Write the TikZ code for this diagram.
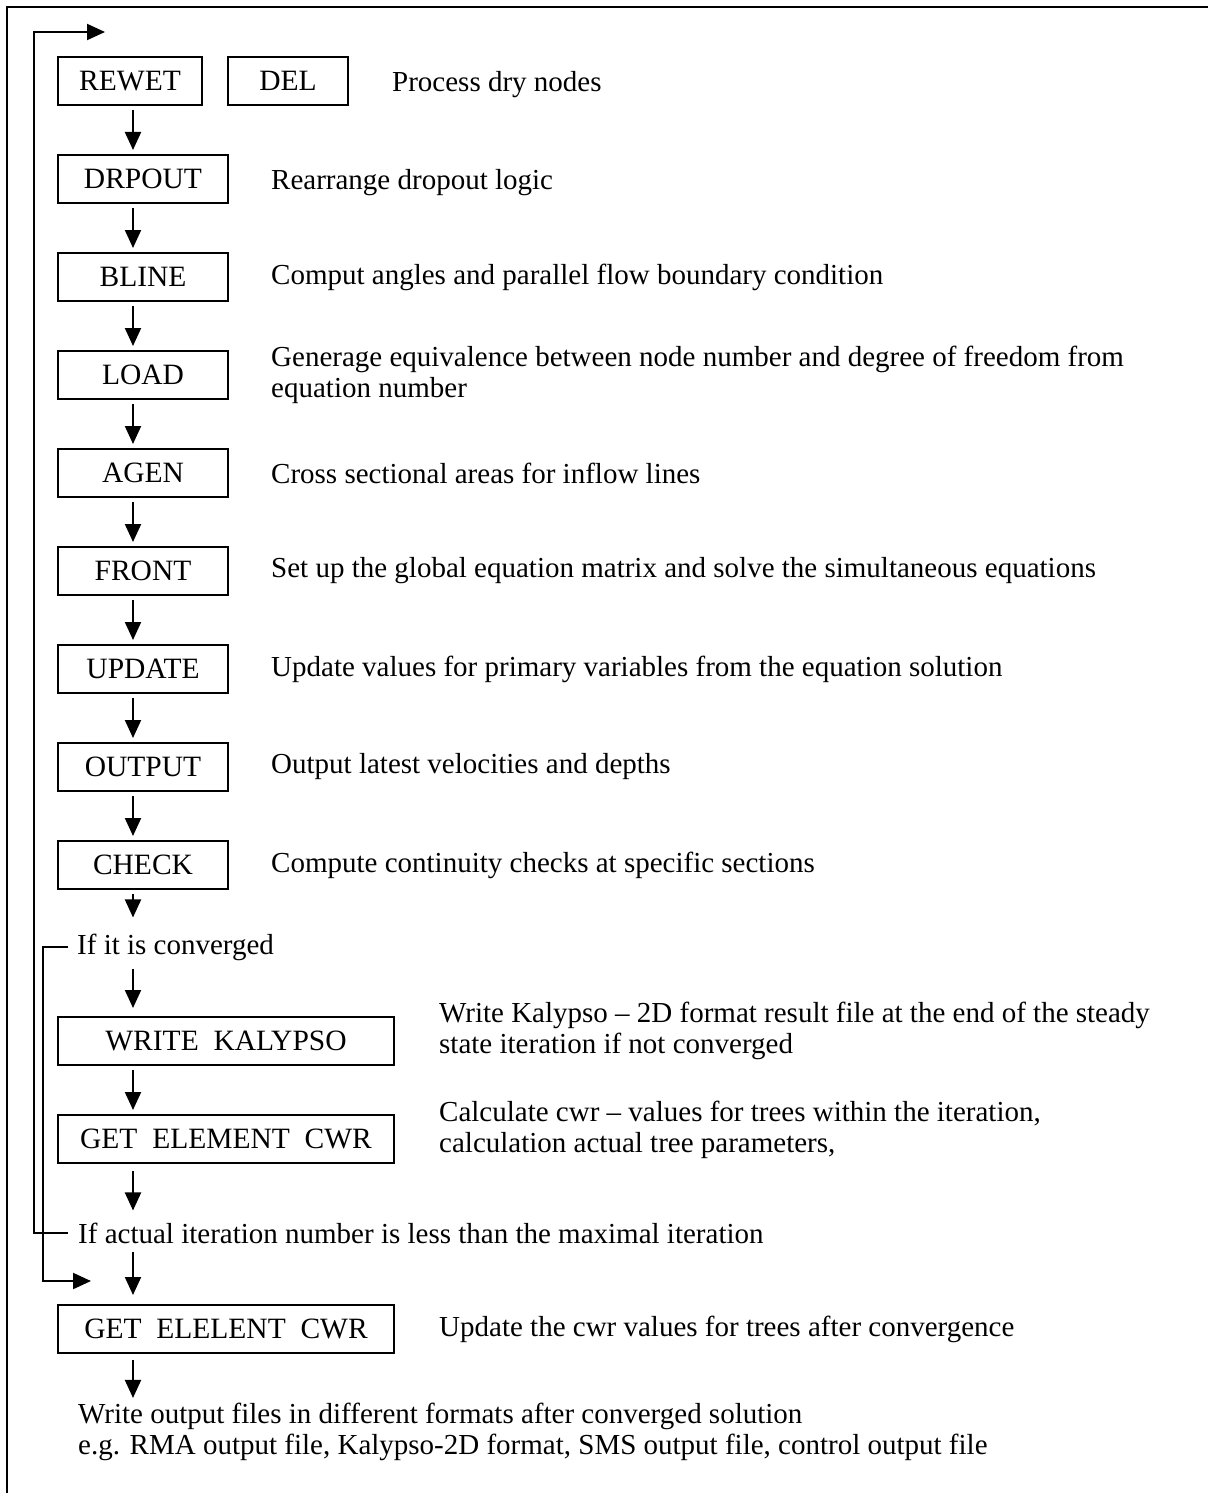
\documentclass[tikz,border=0pt]{standalone}
\usepackage{fontspec}
\setmainfont{Liberation Serif}
\usepackage{tikz}
\usetikzlibrary{arrows.meta, positioning}
\tikzset{
  prog/.style={rectangle, draw=black, line width=2pt,
    minimum width=170pt, minimum height=48pt, inner sep=0pt,
    font=\fontsize{29.5}{31}\selectfont},
  wideprog/.style={prog, minimum width=336pt},
  note/.style={inner sep=0pt, align=left,
    font=\fontsize{29}{31}\selectfont},
  arr/.style={-{Triangle[length=18pt, width=16pt]}, draw=black,
    line width=2pt, shorten <=4pt, shorten >=4pt},
  frame/.style={draw=black, line width=2.4pt},
}

\begin{document}
\begin{tikzpicture}[x=1pt, y=-1pt, node distance=48pt]
    \useasboundingbox (0,0) rectangle (1208,1493);
    \draw[frame] (7,1493) -- (7,7) -- (1208,7);

    % main loop
    \node[prog, minimum width=144pt, anchor=north west] (rewet) at (57,56) {REWET};
    \node[prog, minimum width=120pt] (del) [right=24pt of rewet] {DEL};
    \node[prog] (drpout) [below=48pt of rewet.south west, anchor=north west] {DRPOUT};
    \node[prog] (bline)  [below=of drpout] {BLINE};
    \node[prog] (load)   [below=of bline]  {LOAD};
    \node[prog] (agen)   [below=of load]   {AGEN};
    \node[prog] (front)  [below=of agen]   {FRONT};
    \node[prog] (update) [below=of front]  {UPDATE};
    \node[prog] (output) [below=of update] {OUTPUT};
    \node[prog] (check)  [below=of output] {CHECK};

    \node[note, anchor=west] (conv) at (77,947) {If it is converged};
    \node[wideprog, anchor=north west] (kalypso) at (57,1016) {WRITE\ \ KALYPSO};
    \node[wideprog] (cwr) [below=of kalypso] {GET\ \ ELEMENT\ \ CWR};
    \node[note, anchor=west] (iter) at (78,1233)
      {If actual iteration number is less than the maximal iteration};
    \node[wideprog, anchor=north west] (cwrend) at (57,1304) {GET\ \ ELELENT\ \ CWR};
    \node[note, anchor=west] (files) at (78,1432)
      {Write output files in different formats after converged solution\\
       e.g. RMA output file, Kalypso-2D format, SMS output file, control output file};

    % descriptions
    \node[note, anchor=west] (drytxt)  [right=43pt of del, yshift=-4pt]    {Process dry nodes};
    \node[note, anchor=west] (droptxt) [right=42pt of drpout, yshift=-4pt] {Rearrange dropout logic};
    \node[note, anchor=west] (blinetxt)[right=42pt of bline]  {Comput angles and parallel flow boundary condition};
    \node[note, anchor=west] (loadtxt) [right=42pt of load]
      {Generage equivalence between node number and degree of freedom from\\ equation number};
    \node[note, anchor=west] (agentxt) [right=42pt of agen]   {Cross sectional areas for inflow lines};
    \node[note, anchor=west] (fronttxt)[right=42pt of front]
      {Set up the global equation matrix and solve the simultaneous equations};
    \node[note, anchor=west] (updtxt)  [right=42pt of update]
      {Update values for primary variables from the equation solution};
    \node[note, anchor=west] (outtxt)  [right=42pt of output] {Output latest velocities and depths};
    \node[note, anchor=west] (chktxt)  [right=42pt of check]  {Compute continuity checks at specific sections};
    \node[note, anchor=west] (kaltxt)  [right=44pt of kalypso, yshift=10pt]
      {Write Kalypso -- 2D format result file at the end of the steady\\ state iteration if not converged};
    \node[note, anchor=west] (cwrtxt)  [right=44pt of cwr, yshift=9pt]
      {Calculate cwr -- values for trees within the iteration,\\ calculation actual tree parameters,};
    \node[note, anchor=west] (endtxt)  [right=44pt of cwrend]
      {Update the cwr values for trees after convergence};

    % arrows down the spine
    \coordinate (spine) at (133,0);
    \draw[arr] (rewet.south -| spine)  -- (drpout.north -| spine);
    \draw[arr] (drpout.south -| spine) -- (bline.north -| spine);
    \draw[arr] (bline.south -| spine)  -- (load.north -| spine);
    \draw[arr] (load.south -| spine)   -- (agen.north -| spine);
    \draw[arr] (agen.south -| spine)   -- (front.north -| spine);
    \draw[arr] (front.south -| spine)  -- (update.north -| spine);
    \draw[arr] (update.south -| spine) -- (output.north -| spine);
    \draw[arr] (output.south -| spine) -- (check.north -| spine);
    \draw[arr, shorten >=16pt] (check.south -| spine) -- (conv.north -| spine);
    \draw[arr, shorten <=8pt, shorten >=8pt] (conv.south -| spine) -- (kalypso.north -| spine);
    \draw[arr] (kalypso.south -| spine) -- (cwr.north -| spine);
    \draw[arr, shorten <=7pt, shorten >=12pt] (cwr.south -| spine) -- (iter.north -| spine);
    \draw[arr, shorten <=8pt, shorten >=9pt] (iter.south -| spine) -- (cwrend.north -| spine);
    \draw[arr, shorten <=6pt, shorten >=5pt] (cwrend.south -| spine) -- (files.north -| spine);

    % loops back
    \coordinate (outer)   at (34,32);
    \coordinate (looptop) at (105,32);
    \coordinate (inner)   at (43,1281);
    \coordinate (loopin)  at (91,1281);
    \draw[arr, shorten <=0pt, shorten >=0pt] ([xshift=-10pt]iter.west) -| (outer) -- (looptop);
    \draw[arr, shorten <=0pt, shorten >=0pt] ([xshift=-9pt]conv.west) -| (inner) -- (loopin);
  \end{tikzpicture}
\end{document}
